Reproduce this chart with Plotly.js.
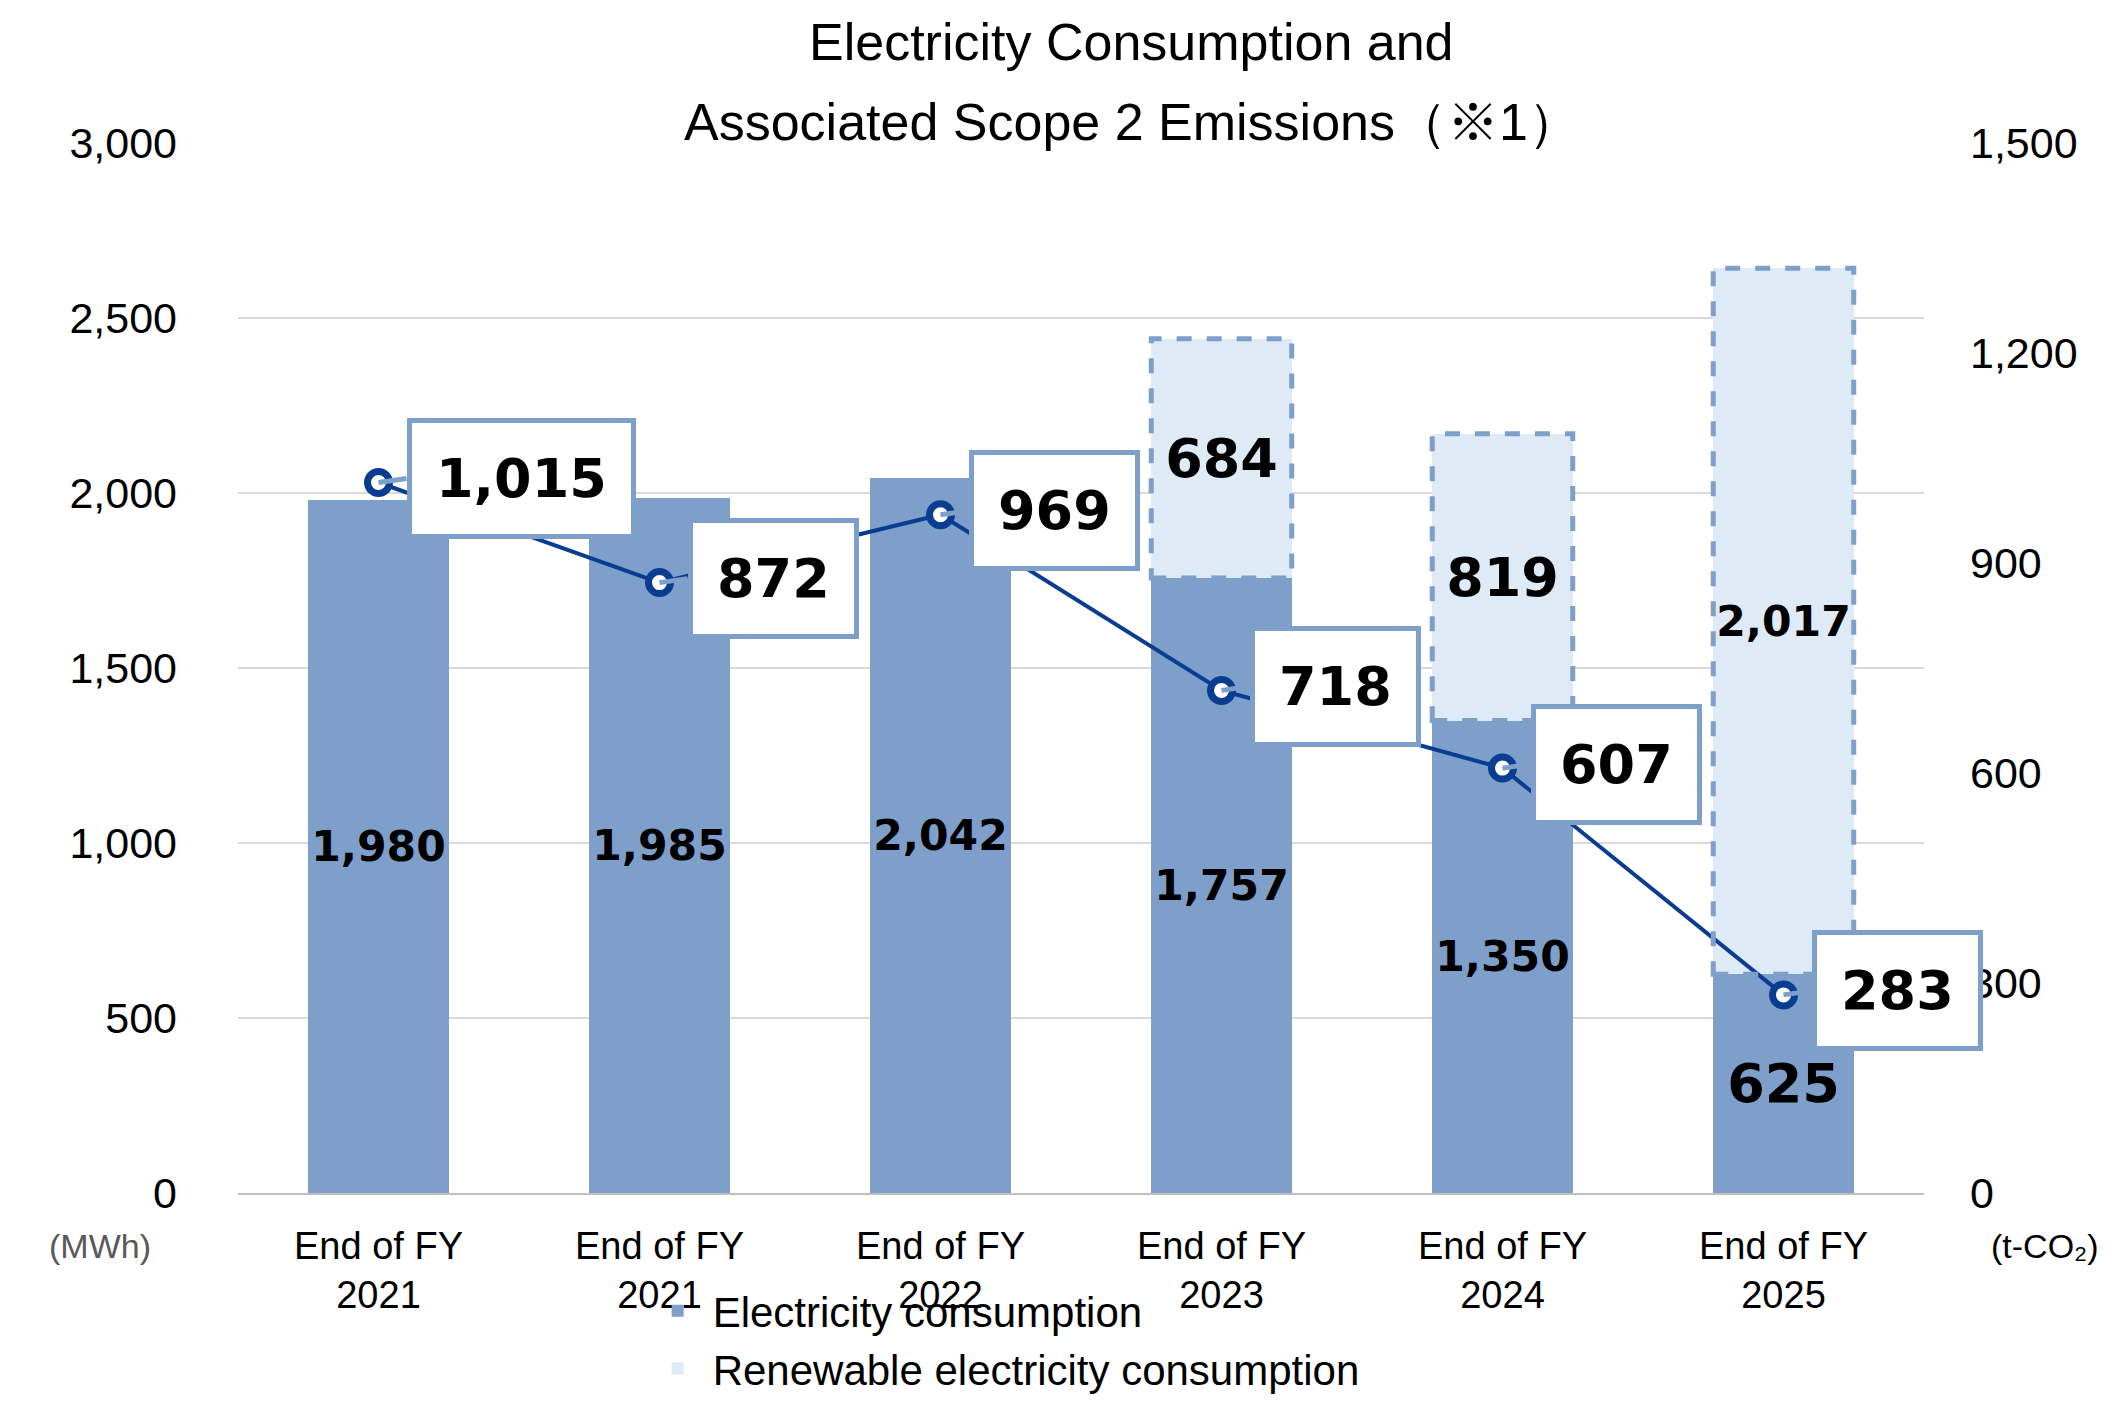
<!DOCTYPE html>
<html><head><meta charset="utf-8">
<script src="https://cdn.plot.ly/plotly-3.0.1.min.js"></script>
<style>body{margin:0;background:#fff}</style></head>
<body><div id="chart" style="width:2121px;height:1415px"></div>
<script>
const categories = ["End of FY<br>2021","End of FY<br>2021","End of FY<br>2022","End of FY<br>2023","End of FY<br>2024","End of FY<br>2025"];
const electricity = [1980,1985,2042,1757,1350,625];
const renewable = [null,null,null,684,819,2017];
const emissions = [1015,872,969,718,607,283];
const leftTicks = [0,500,1000,1500,2000,2500,3000];
const rightTicks = [0,300,600,900,1200,1500];
const fmt = v => v.toLocaleString('en-US');
const xs = categories.map((c,i)=>i);
const labelFont = {family:"DejaVu Sans", size:54, color:"#000", weight:"bold"};
const barW = 0.5;

const traces = [
 {type:'bar', x:xs, y:electricity, name:'Electricity consumption', width:barW,
  marker:{color:'#7F9FCB'}, text:electricity.map(fmt), textposition:'inside',
  insidetextanchor:'middle', textfont:labelFont, textangle:0},
 {type:'bar', x:xs, y:renewable, name:'Renewable electricity consumption', width:barW,
  marker:{color:'#DEEAF6', line:{color:'#7F9FCB', width:0}},
  text:renewable.map(v=>v==null?'':fmt(v)), textposition:'inside',
  insidetextanchor:'middle', textfont:labelFont, textangle:0},
 {type:'scatter', mode:'lines+markers', x:xs, y:emissions, yaxis:'y2', showlegend:false,
  line:{color:'#0A3D91', width:4},
  marker:{symbol:'circle', size:22, color:'#fff', line:{color:'#0A3D91', width:7}}}
];

const shapes = [];
renewable.forEach((v,i)=>{
  if (v==null) return;
  shapes.push({type:'rect', xref:'x', yref:'y', x0:i-barW/2, x1:i+barW/2,
    y0:electricity[i], y1:electricity[i]+v, line:{color:'#7F9FCB', width:5, dash:'dash'},
    fillcolor:'rgba(0,0,0,0)', layer:'above'});
});

const annotations = emissions.map((v,i)=>({
  x:i, y:v, xref:'x', yref:'y2', text:fmt(v), showarrow:true, arrowhead:0,
  arrowcolor:'#7F9FCB', arrowwidth:5, ax:28, ay:-4, xanchor:'left', yanchor:'middle',
  bgcolor:'#fff', bordercolor:'#7F9FCB', borderwidth:5, borderpad:24, font:labelFont
}));
annotations.push(
 {text:'Electricity Consumption and', xref:'paper', yref:'paper', x:0.53, y:1.096, showarrow:false,
  xanchor:'center', yanchor:'middle', font:{family:'Liberation Sans', size:52, color:'#000'}},
 {text:'Associated Scope 2 Emissions（※1）', xref:'paper', yref:'paper', x:0.53, y:1.020, showarrow:false,
  xanchor:'center', yanchor:'middle', font:{family:'Liberation Sans', size:52, color:'#000'}},
 {text:'(MWh)', xref:'paper', yref:'paper', x:-0.082, y:-0.07, showarrow:false, xanchor:'center',
  font:{family:'Liberation Sans', size:34, color:'#595959'}},
 {text:'(t-CO₂)', xref:'paper', yref:'paper', x:1.072, y:-0.07, showarrow:false, xanchor:'center',
  font:{family:'Liberation Sans', size:34, color:'#000'}}
);

const layout = {
  width:2121, height:1415, barmode:'stack',
  margin:{l:238, r:197, t:143, b:208},
  paper_bgcolor:'#fff', plot_bgcolor:'#fff',
  xaxis:{tickmode:'array', tickvals:xs, ticktext:categories, range:[-0.5,5.5],
    showline:true, linecolor:'#BFBFBF', linewidth:2, ticks:'', ticklabelstandoff:18,
    tickfont:{family:'Liberation Sans', size:38, color:'#000'}},
  yaxis:{range:[0,3000], tickvals:leftTicks, ticktext:leftTicks.map(fmt),
    gridcolor:'#D9D9D9', gridwidth:2, zeroline:false, ticklabelstandoff:60,
    tickfont:{family:'Liberation Sans', size:43, color:'#000'}},
  yaxis2:{range:[0,1500], tickvals:rightTicks, ticktext:rightTicks.map(fmt),
    overlaying:'y', side:'right', showgrid:false, zeroline:false, ticklabelstandoff:45,
    tickfont:{family:'Liberation Sans', size:43, color:'#000'}},
  legend:{orientation:'v', x:0.24, xanchor:'left', y:-0.08, yanchor:'top',
    bgcolor:'rgba(0,0,0,0)', tracegroupgap:0, traceorder:'normal', itemwidth:60,
    font:{family:'Liberation Sans', size:42, color:'#000'}},
  shapes:shapes,
  annotations:annotations
};
Plotly.newPlot('chart', traces, layout, {displayModeBar:false});
</script></body></html>
